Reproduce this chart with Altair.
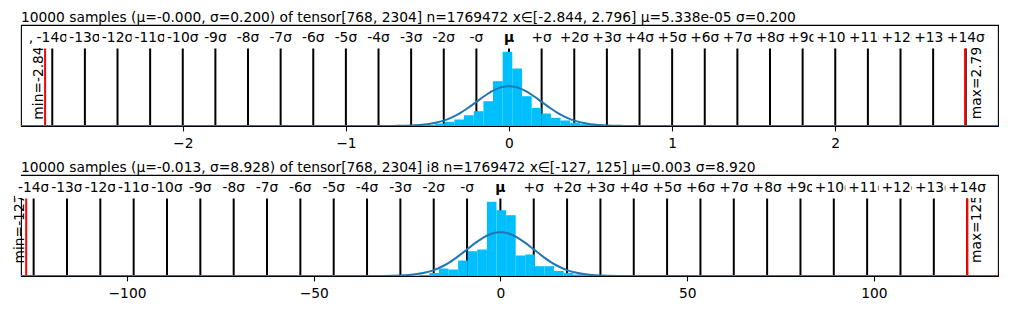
import altair as alt
import pandas as pd

FONT = "DejaVu Sans"
FS = 13.8
PLOT_W = 977
PLOT_H = 101
LINE_TOP = 77.5          # top of the sigma / min / max lines (y units)
LABEL_Y = 84             # baseline of the sigma labels (y units)
BOX_Y0, BOX_Y1 = 78, 100 # white label boxes (y units)

# ---------------- panel 1 : float tensor ----------------
p1_title = "10000 samples (μ=-0.000, σ=0.200) of tensor[768, 2304] n=1769472 x∈[-2.844, 2.796] μ=5.338e-05 σ=0.200"
p1_mu = 0.0
p1_sigma = 0.200
p1_min, p1_max = -2.844, 2.796
p1_min_text, p1_max_text = "min=-2.84", "max=2.79"
p1_xdomain = [-2.961, 2.967]
p1_xticks = [-2, -1, 0, 1, 2]
p1_bin_edges = [-0.571, -0.512, -0.453, -0.394, -0.335, -0.276, -0.216, -0.157, -0.098, -0.039,
                0.020, 0.080, 0.139, 0.198, 0.257, 0.316, 0.375, 0.435, 0.494, 0.553]
p1_bin_heights = [0.6, 1.2, 2.5, 4.2, 6.5, 10.8, 14.8, 24.8, 44.8, 74.2,
                  57.5, 29.8, 18.2, 12.5, 8.2, 5.5, 3.2, 1.8, 1.0]
p1_curve_h = [0.0, 0.0, 0.1, 0.4, 0.9, 1.7, 3.2, 5.4, 8.6, 12.9, 18.2, 24.1, 30.0, 35.1, 38.6, 39.8,
              38.6, 35.1, 30.0, 24.1, 18.2, 12.9, 8.6, 5.4, 3.2, 1.7, 0.9, 0.4, 0.1, 0.0, 0.0]
p1_extra_labels = [(-2.93, ",")]

# ---------------- panel 2 : int8 tensor ----------------
p2_title = "10000 samples (μ=-0.013, σ=8.928) of tensor[768, 2304] i8 n=1769472 x∈[-127, 125] μ=0.003 σ=8.920"
p2_mu = -0.013
p2_sigma = 8.928
p2_min, p2_max = -127, 125
p2_min_text, p2_max_text = "min=-127", "max=125"
p2_xdomain = [-127.05, 131.9]
p2_xticks = [-100, -50, 0, 50, 100]
p2_bin_edges = [-21.62, -19.05, -16.48, -13.91, -11.34, -8.77, -6.20, -3.63, -1.06, 1.51,
                4.08, 6.65, 9.22, 11.79, 14.36, 16.93, 19.50, 22.07, 24.64, 27.21]
p2_bin_heights = [1.0, 3.0, 7.5, 6.5, 15.5, 24.8, 26.5, 74.2, 65.8, 60.8,
                  20.5, 21.5, 9.8, 9.8, 5.0, 3.2, 1.5, 0.8, 1.0]
p2_curve_h = [0.0, 0.0, 0.1, 0.5, 1.0, 1.9, 3.5, 5.9, 9.5, 14.2, 20.1, 26.6, 33.1, 38.7, 42.5, 43.8,
              42.5, 38.7, 33.1, 26.6, 20.1, 14.2, 9.5, 5.9, 3.5, 1.9, 1.0, 0.5, 0.1, 0.0, 0.0]
p2_extra_labels = []

# curve sample positions, in sigma units from the mean
curve_k = [-16, -4, -3.5, -3, -2.75, -2.5, -2.25, -2, -1.75, -1.5, -1.25, -1, -0.75, -0.5, -0.25, 0,
           0.25, 0.5, 0.75, 1, 1.25, 1.5, 1.75, 2, 2.25, 2.5, 2.75, 3, 3.5, 4, 16]
sigma_k = list(range(-14, 15))

CHAR_W = {"-": 0.361, "+": 0.838, "σ": 0.623, ",": 0.318, "μ": 0.712}


def sigma_label(k):
    if k == 0:
        return "μ"
    if k == 1:
        return "+σ"
    if k == -1:
        return "-σ"
    return f"+{k}σ" if k > 0 else f"{k}σ"


def text_width(s):
    return sum(CHAR_W.get(c, 0.636) for c in s) * FS + 6


def panel(title, mu, sigma, vmin, vmax, min_text, max_text, xdomain, xticks,
          edges, heights, curve_h, extra_labels, min_dy, max_dy, mm_y):
    xs = alt.Scale(domain=xdomain, nice=False, zero=False)
    ys = alt.Scale(domain=[0, PLOT_H], nice=False, zero=False)
    xaxis = alt.Axis(values=xticks, format="d", title=None, grid=False, domain=False,
                     tickSize=4.9, tickWidth=1.1, tickColor="black", labelFontSize=FS,
                     labelColor="black", labelPadding=17, labelBaseline="alphabetic",
                     labelFont=FONT, orient="bottom")

    def X(field):
        return alt.X(field, scale=xs, axis=xaxis)

    def Y(field):
        return alt.Y(field, scale=ys, axis=None)

    rules = pd.DataFrame({"x": [mu + k * sigma for k in sigma_k], "y0": 0.0, "y1": LINE_TOP})
    mm = pd.DataFrame({"x": [vmin, vmax], "y0": 0.0, "y1": LINE_TOP,
                       "t": [min_text, max_text], "ym": mm_y, "k": [0, 1]})
    hist = pd.DataFrame({"x0": edges[:-1], "x1": edges[1:], "h": heights, "y0": 0.0})
    curve = pd.DataFrame({"x": [mu + k * sigma for k in curve_k], "h": curve_h})

    labs = [(x, t) for x, t in extra_labels] + [(mu + k * sigma, sigma_label(k)) for k in sigma_k]
    ldf = pd.DataFrame({"i": list(range(len(labs))), "x": [a for a, _ in labs],
                        "t": [b for _, b in labs]})
    ldf["w"] = [text_width(t) for t in ldf["t"]]
    ldf["y"] = LABEL_Y
    ldf["b0"] = BOX_Y0
    ldf["b1"] = BOX_Y1

    layers = []
    layers.append(alt.Chart(rules).mark_rule(color="black", strokeWidth=2).encode(
        x=X("x:Q"), y=Y("y0:Q"), y2="y1:Q"))
    layers.append(alt.Chart(mm).mark_rule(color="red", strokeWidth=2, clip=True).encode(
        x=X("x:Q"), y=Y("y0:Q"), y2="y1:Q"))
    layers.append(alt.Chart(hist).mark_rect(color="#00BFFF").encode(
        x=X("x0:Q"), x2="x1:Q", y=Y("y0:Q"), y2="h:Q"))
    layers.append(alt.Chart(curve).mark_line(color="#1f77b4", strokeWidth=2,
                                              interpolate="monotone", clip=True).encode(
        x=X("x:Q"), y=Y("h:Q")))
    for idx, dy in ((0, min_dy), (1, max_dy)):
        layers.append(alt.Chart(mm).transform_filter(f"datum.k == {idx}").mark_text(
            angle=270, baseline="middle", align="center", dy=dy, font=FONT, fontSize=FS,
            color="black").encode(x=X("x:Q"), y=Y("ym:Q"), text="t:N"))
    for i in range(len(ldf)):
        base = alt.Chart(ldf).transform_filter(f"datum.i == {i}")
        layers.append(base.mark_bar(color="white").encode(
            x=X("x:Q"), y=Y("b0:Q"), y2="b1:Q",
            size=alt.Size("w:Q", scale=None, legend=None)))
        layers.append(base.mark_text(
            baseline="alphabetic", align="center", font=FONT, fontSize=FS, color="black",
            fontWeight="bold" if ldf["t"][i] == "μ" else "normal").encode(
            x=X("x:Q"), y=Y("y:Q"), text="t:N"))

    return alt.layer(*layers).properties(
        width=PLOT_W, height=PLOT_H,
        title=alt.TitleParams(title, anchor="start", frame="group", fontSize=FS,
                              fontWeight="normal", font=FONT, color="black", offset=-11,
                              baseline="alphabetic"))


top = panel(p1_title, p1_mu, p1_sigma, p1_min, p1_max, p1_min_text, p1_max_text, p1_xdomain,
            p1_xticks, p1_bin_edges, p1_bin_heights, p1_curve_h, p1_extra_labels, -6, 11.5, 43)
bottom = panel(p2_title, p2_mu, p2_sigma, p2_min, p2_max, p2_min_text, p2_max_text, p2_xdomain,
               p2_xticks, p2_bin_edges, p2_bin_heights, p2_curve_h, p2_extra_labels, -6, 10, 47)

chart = alt.vconcat(top, bottom, spacing=49, bounds="flush").properties(
    padding={"left": 4, "top": 2, "right": 0, "bottom": 0}
).configure(font=FONT).configure_view(stroke="black", strokeWidth=1.1)

chart.save("out.html", embed_options={"renderer": "svg", "actions": False})
